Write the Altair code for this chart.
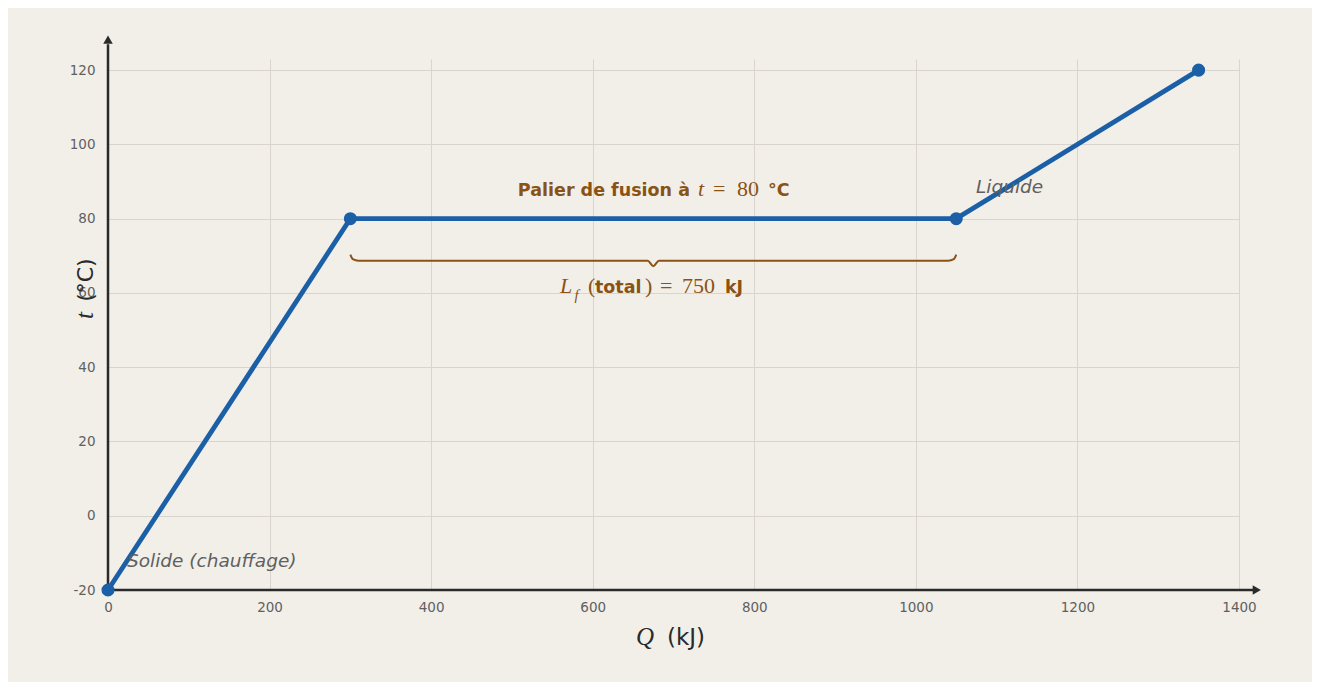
import altair as alt
import pandas as pd

# ---- data ----
Q_KJ = [0, 300, 1050, 1350]
T_C = [-20, 80, 80, 120]
X_TICKS = [0, 200, 400, 600, 800, 1000, 1200, 1400]
Y_TICKS = [-20, 0, 20, 40, 60, 80, 100, 120]

# brace under the melting plateau (annotation shape, in data units)
BRACE_Q = [300, 303, 310, 668, 675, 682, 1040, 1047, 1050]
BRACE_T = [70.3, 69.1, 68.7, 68.7, 67.2, 68.7, 68.7, 69.1, 70.3]

BG = "#f2efe9"
BLUE = "#1b5fa6"
BROWN = "#8a5313"
GREY = "#606060"
AXC = "#2a2a2a"
GRID = "#d9d5ce"
SANS = "DejaVu Sans"
SERIF = "Liberation Serif"

df = pd.DataFrame({"Q": Q_KJ, "t": T_C})
brace = pd.DataFrame({"Q": BRACE_Q, "t": BRACE_T})

xs = alt.Scale(domain=[0, 1400], nice=False, zero=False)
ys = alt.Scale(domain=[-20, 123], nice=False, zero=False)

xaxis = alt.Axis(values=X_TICKS, grid=True, domain=False, ticks=False, title=None,
                 labelExpr="'' + datum.value", labelFlush=False, labelOverlap=False,
                 labelColor=GREY, labelFont=SANS, labelFontSize=13.5, labelPadding=10,
                 gridColor=GRID, gridWidth=1)
yaxis = alt.Axis(values=Y_TICKS, grid=True, domain=False, ticks=False, title=None,
                 labelExpr="'' + datum.value", labelFlush=False, labelOverlap=False,
                 labelColor=GREY, labelFont=SANS, labelFontSize=13.5, labelPadding=13,
                 gridColor=GRID, gridWidth=1)

X = alt.X("Q:Q", scale=xs, axis=xaxis)
Y = alt.Y("t:Q", scale=ys, axis=yaxis)

# axes with arrows
xrule = alt.Chart(pd.DataFrame({"Q": [0], "Q2": [1420], "t": [-20]})).mark_rule(
    color=AXC, strokeWidth=2.5).encode(x=X, x2="Q2:Q", y=Y)
yrule = alt.Chart(pd.DataFrame({"Q": [0], "t": [-20], "t2": [127]})).mark_rule(
    color=AXC, strokeWidth=2.5).encode(x=X, y=Y, y2="t2:Q")
xarrow = alt.Chart(pd.DataFrame({"Q": [1422], "t": [-20]})).mark_point(
    shape="triangle-right", filled=True, size=90, color=AXC, opacity=1).encode(x=X, y=Y)
yarrow = alt.Chart(pd.DataFrame({"Q": [0], "t": [128.2]})).mark_point(
    shape="triangle-up", filled=True, size=90, color=AXC, opacity=1).encode(x=X, y=Y)

line = alt.Chart(df).mark_line(color=BLUE, strokeWidth=4.8).encode(x=X, y=Y)
pts = alt.Chart(df).mark_circle(color=BLUE, size=170, opacity=1).encode(x=X, y=Y)

brace_line = alt.Chart(brace).mark_line(color=BROWN, strokeWidth=2,
                                        interpolate="monotone").encode(x=X, y=Y)


def txt(s, q, t, font=SANS, size=17.5, color=BROWN, style="normal", weight="normal",
        align="left", baseline="alphabetic", angle=0):
    return alt.Chart(pd.DataFrame({"Q": [q], "t": [t], "s": [s]})).mark_text(
        font=font, fontSize=size, color=color, fontStyle=style, fontWeight=weight,
        align=align, baseline=baseline, angle=angle).encode(x=X, y=Y, text="s:N")


ann = [
    # plateau title
    txt("Palier de fusion à", 720.4, 86.1, weight="bold", align="right"),
    txt("t", 730.3, 86.1, font=SERIF, size=22, style="italic"),
    txt("=", 748.9, 86.1, font=SERIF, size=22),
    txt("80", 778.6, 86.1, font=SERIF, size=22),
    txt("°C", 817.0, 86.1, weight="bold"),
    # latent heat label
    txt("L", 559.5, 60.0, font=SERIF, size=22, style="italic"),
    txt("f", 577.5, 58.2, font=SERIF, size=15, style="italic"),
    txt("(", 594.2, 60.0, font=SERIF, size=22),
    txt("total", 602.8, 60.0, weight="bold"),
    txt(")", 664.7, 60.0, font=SERIF, size=22),
    txt("=", 683.3, 60.0, font=SERIF, size=22),
    txt("750", 710.5, 60.0, font=SERIF, size=22),
    txt("kJ", 763.7, 60.0, weight="bold"),
    # phase labels
    txt("Solide (chauffage)", 23.5, -13.8, size=18.5, color=GREY, style="italic"),
    txt("Liquide", 1074.4, 86.9, size=18.5, color=GREY, style="italic"),
    # axis titles
    txt("Q", 653.6, -34.8, font=SERIF, size=25, color=AXC, style="italic"),
    txt("(kJ)", 691.9, -34.8, size=23, color=AXC),
    txt("t", -18.6, 53.0, font=SERIF, size=25, color=AXC, style="italic", angle=270),
    txt("(°C)", -18.6, 57.6, size=22, color=AXC, angle=270),
]

chart = alt.layer(xrule, yrule, xarrow, yarrow, brace_line, line, pts, *ann).properties(
    width=1131, height=531,
    autosize=alt.AutoSizeParams(type="none"),
    padding={"left": 100, "top": 51, "right": 73, "bottom": 92},
    background=BG,
).configure_view(stroke=None)

chart.save("out.html", embed_options={"renderer": "svg", "actions": False})
